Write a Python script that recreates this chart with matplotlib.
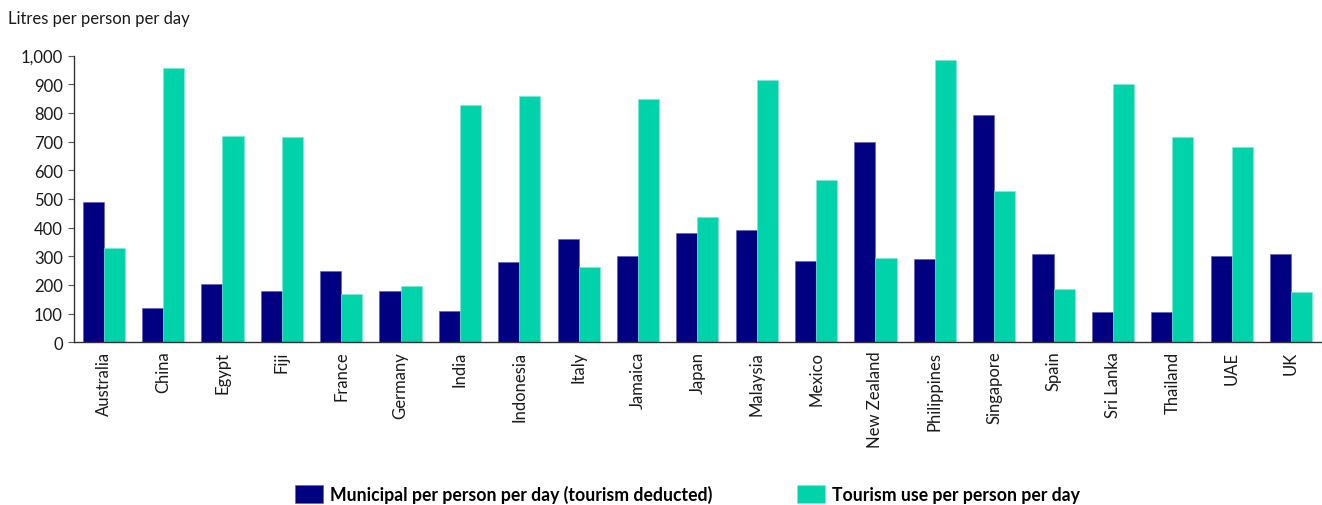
import matplotlib.pyplot as plt
import numpy as np

plt.rcParams['font.family'] = ['Lato', 'DejaVu Sans']

# countries along the x axis
countries = ["Australia", "China", "Egypt", "Fiji", "France", "Germany", "India",
             "Indonesia", "Italy", "Jamaica", "Japan", "Malaysia", "Mexico",
             "New Zealand", "Philippines", "Singapore", "Spain", "Sri Lanka",
             "Thailand", "UAE", "UK"]

# litres per person per day
municipal = [488, 119, 205, 180, 248, 180, 109, 279, 360, 300, 380, 391, 284,
             699, 290, 794, 308, 105, 105, 300, 308]
tourism = [330, 956, 719, 715, 169, 197, 829, 859, 262, 849, 436, 915, 567,
           294, 983, 529, 186, 901, 715, 680, 177]

navy = "#000080"
teal = "#00D2AA"

fig = plt.figure(figsize=(13.22, 5.06), dpi=100)
ax = fig.add_axes([0.056, 0.3215, 0.943, 0.5666])

x = np.arange(len(countries))
w = 0.355
ax.bar(x - w / 2, municipal, w, color=navy, edgecolor="#5a5ab0", linewidth=0.4,
       label="Municipal per person per day (tourism deducted)")
ax.bar(x + w / 2, tourism, w, color=teal, edgecolor="#7fe8d4", linewidth=0.4,
       label="Tourism use per person per day")

ax.set_xlim(-0.5, len(countries) - 0.5)
ax.set_ylim(0, 1000)
ax.set_yticks(range(0, 1001, 100))
ax.set_yticklabels([f"{v:,}" for v in range(0, 1001, 100)])
ax.set_xticks(x)
ax.set_xticklabels(countries, rotation=90)

for s in ["top", "right"]:
    ax.spines[s].set_visible(False)
for s in ["left", "bottom"]:
    ax.spines[s].set_color("#333333")
    ax.spines[s].set_linewidth(1.0)

ax.tick_params(axis="y", length=4, width=0.8, color="#555555", labelsize=12, pad=4,
               labelcolor="#1a1a1a")
ax.tick_params(axis="x", length=0, labelsize=12, pad=6, labelcolor="#1a1a1a")

fig.text(0.006, 0.962, "Litres per person per day", fontsize=12, color="#1a1a1a",
         ha="left", va="center")

fig.legend(loc="center", bbox_to_anchor=(0.52, 0.022), ncol=2, frameon=False,
           prop={"weight": "bold", "size": 12.7}, handlelength=1.6, handleheight=1.15,
           handletextpad=0.4, columnspacing=4.8)

fig.savefig("out.png", dpi=100)
